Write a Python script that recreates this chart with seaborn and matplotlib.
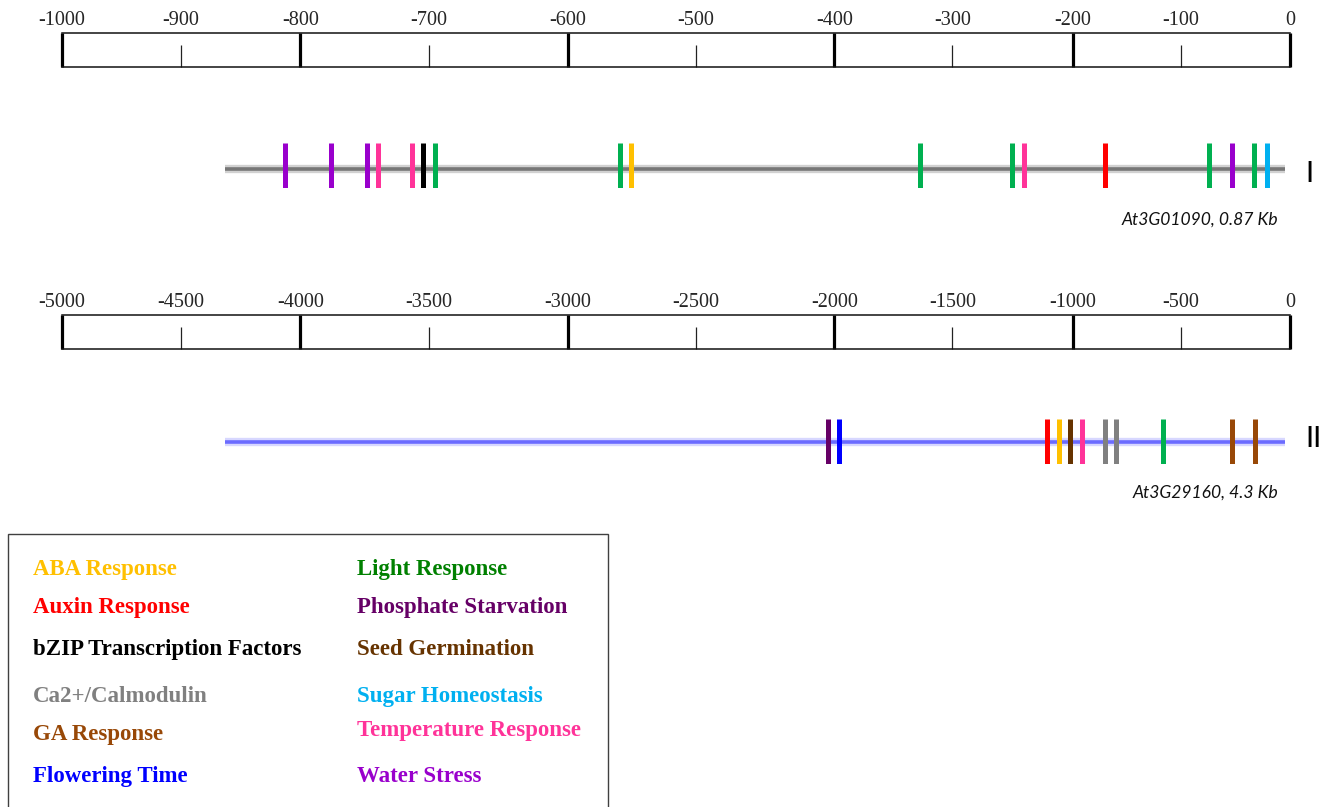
import matplotlib
matplotlib.use("Agg")
import matplotlib.pyplot as plt
from matplotlib.patches import Rectangle
import pandas as pd
import seaborn as sns

# Ruler tick labels and where each tick sits along the (hand drawn) ruler, in bp
ruler1_labels = [-1000, -900, -800, -700, -600, -500, -400, -300, -200, -100, 0]
ruler1_ticks = [-1000, -903, -806, -701, -588, -484, -371, -275, -177, -89, 0]
ruler2_labels = [-5000, -4500, -4000, -3500, -3000, -2500, -2000, -1500, -1000, -500, 0]
ruler2_ticks = [-5000, -4515, -4030, -3505, -2940, -2420, -1855, -1375, -885, -445, 0]

# Promoter I: At3G01090, 0.87 Kb
gene1_name = "At3G01090, 0.87 Kb"
gene1_span = [-867, -4]
gene1_pos = [-818, -781, -752, -743, -715, -706, -696, -546, -537,
             -301, -226, -217, -151, -66, -47, -29, -19]
gene1_elem = ["Water Stress", "Water Stress", "Water Stress", "Temperature Response",
              "Temperature Response", "bZIP Transcription Factors", "Light Response",
              "Light Response", "ABA Response", "Light Response", "Light Response",
              "Temperature Response", "Auxin Response", "Light Response", "Water Stress",
              "Light Response", "Sugar Homeostasis"]

# Promoter II: At3G29160, 4.3 Kb
gene2_name = "At3G29160, 4.3 Kb"
gene2_span = [-4336, -20]
gene2_pos = [-1881, -1836, -989, -941, -896, -847, -753, -708, -517, -236, -143]
gene2_elem = ["Phosphate Starvation", "Flowering Time", "Auxin Response", "ABA Response",
              "Seed Germination", "Temperature Response", "Ca2+/Calmodulin",
              "Ca2+/Calmodulin", "Light Response", "GA Response", "GA Response"]

legend_left = ["ABA Response", "Auxin Response", "bZIP Transcription Factors",
               "Ca2+/Calmodulin", "GA Response", "Flowering Time"]
legend_right = ["Light Response", "Phosphate Starvation", "Seed Germination",
                "Sugar Homeostasis", "Temperature Response", "Water Stress"]

mark_colors = {
    "ABA Response": "#FFC000", "Auxin Response": "#FF0000",
    "bZIP Transcription Factors": "#000000", "Ca2+/Calmodulin": "#808080",
    "GA Response": "#984807", "Flowering Time": "#0000FF",
    "Light Response": "#00B050", "Phosphate Starvation": "#660066",
    "Seed Germination": "#663300", "Sugar Homeostasis": "#00B0F0",
    "Temperature Response": "#FF3399", "Water Stress": "#9900CC",
}
text_colors = dict(mark_colors, **{"Light Response": "#008000"})

sns.set_style("white")
plt.rcParams["font.family"] = ["Liberation Serif", "DejaVu Serif"]

W, H = 1331, 807
fig = plt.figure(figsize=(W / 100, H / 100), dpi=100)


def add_px_axes(x0, y0, x1, y1):
    # axes placed by pixel box (top-left origin)
    ax = fig.add_axes([x0 / W, 1 - y1 / H, (x1 - x0) / W, (y1 - y0) / H])
    ax.set_facecolor("none")
    return ax


def draw_ruler(y0, labels, ticks):
    ax = add_px_axes(62, y0, 1290, y0 + 34)
    ax.set_xlim(ticks[0], ticks[-1])
    ax.set_ylim(0, 1)
    for side in ["left", "right"]:
        ax.spines[side].set_visible(False)
    for side in ["top", "bottom"]:
        ax.spines[side].set_linewidth(1.1)
        ax.spines[side].set_color("#111111")
    ax.vlines(ticks[::2], 0, 1, color="black", lw=2.3, clip_on=False)
    ax.vlines(ticks[1::2], 0, 0.65, color="#222222", lw=0.9, clip_on=False)
    ax.set_yticks([])
    ax.set_xticks(ticks, [str(v) for v in labels])
    ax.tick_params(axis="x", top=True, bottom=False, labeltop=True, labelbottom=False,
                   length=0, pad=2.5, labelsize=14.6)


def draw_track(y0, xmin, pos, elem, span, line_y, core, glow,
               name, name_y, roman, roman_x, roman_y):
    ax = add_px_axes(62, y0, 1290, y0 + 45)
    ax.set_xlim(xmin, 0)
    ax.set_ylim(0, 1)
    ax.axis("off")
    # soft backbone line
    ax.plot(span, [line_y, line_y], color=glow, lw=6, alpha=0.45, solid_capstyle="butt",
            clip_on=False, zorder=1)
    ax.plot(span, [line_y, line_y], color=core, lw=2.6, solid_capstyle="butt",
            clip_on=False, zorder=2)
    df = pd.DataFrame({"pos": pos, "element": elem})
    sns.rugplot(data=df, x="pos", hue="element", palette=mark_colors, height=1,
                linewidth=3.6, expand_margins=False, legend=False, ax=ax, zorder=3)
    fig.text(1278 / W, 1 - name_y / H, name, ha="right", va="baseline",
             fontsize=12.6, style="italic", family=["Lato", "DejaVu Sans"], color="#111111")
    fig.text(roman_x / W, 1 - roman_y / H, roman, ha="center", va="baseline",
             fontsize=21, family=["Lato", "DejaVu Sans"], color="black")
    return ax


draw_ruler(33, ruler1_labels, ruler1_ticks)
draw_ruler(315, ruler2_labels, ruler2_ticks)

draw_track(143, -1000, gene1_pos, gene1_elem, gene1_span, 0.42, "#777777", "#9a9a9a",
           gene1_name, 225, "I", 1309, 182)
draw_track(419, -5000, gene2_pos, gene2_elem, gene2_span, 0.5, "#6B6BFF", "#A8A8FF",
           gene2_name, 498, "II", 1313, 447)

# legend box with coloured labels
fig.patches.append(Rectangle((8 / W, 1 - 830 / H), 600 / W, 296 / H,
                             transform=fig.transFigure, fill=False,
                             edgecolor="#404040", lw=1.0))
left_base = [575, 613, 655, 702, 740, 782]
right_base = [575, 613, 655, 702, 736, 782]
for lab, yb in zip(legend_left, left_base):
    fig.text(33 / W, 1 - yb / H, lab, color=text_colors[lab], fontsize=16.5,
             fontweight="bold", va="baseline", ha="left")
for lab, yb in zip(legend_right, right_base):
    fig.text(357 / W, 1 - yb / H, lab, color=text_colors[lab], fontsize=16.5,
             fontweight="bold", va="baseline", ha="left")

fig.savefig("out.png", dpi=100)
